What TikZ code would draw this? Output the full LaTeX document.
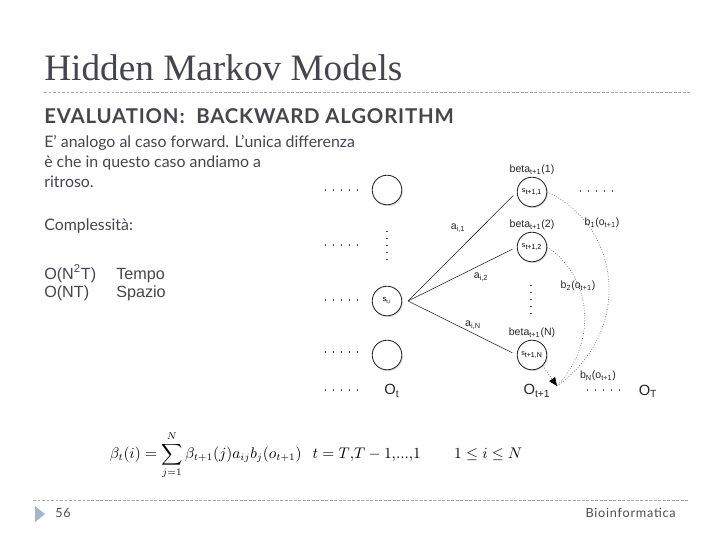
\documentclass[tikz,border=0pt]{standalone}
\usepackage{amsmath,amssymb}
\usepackage{fontspec}
\setmainfont{Liberation Serif}
\newfontfamily\gill{Lato}
\newfontfamily\arial{Liberation Sans}
\usetikzlibrary{arrows.meta,positioning,shadows}

\definecolor{slidegray}{HTML}{45454D}
\definecolor{markerblue}{HTML}{A3B6CA}

\begin{document}
\begin{tikzpicture}[
  x=0.025cm, y=-0.025cm,
  state/.style={
    circle, draw=black!85, fill=white, semithick, inner sep=0pt, minimum size=0.74cm,
    drop shadow={shadow xshift=0.7pt, shadow yshift=-0.9pt, opacity=0.3}
  },
  lab/.style={font=\arial\fontsize{7.5}{8}\selectfont, text=black!85, inner sep=1pt},
  obs/.style={font=\arial\fontsize{10.5}{11}\selectfont, text=black!85, inner sep=1pt},
  body/.style={font=\gill\fontsize{11.3}{13}\selectfont, text=slidegray, anchor=base west, inner sep=0pt},
  cplx/.style={font=\arial\fontsize{11.5}{14}\selectfont, text=slidegray, anchor=base west, inner sep=0pt},
  foot/.style={font=\gill\fontsize{9}{10}\selectfont\addfontfeature{LetterSpace=6}, text=black!70, inner sep=0pt},
  hdots/.style={black!70, line width=0.8pt, dash pattern=on 0.8pt off 4.9pt},
  vdots/.style={black!70, line width=0.8pt, dash pattern=on 0.8pt off 4.2pt},
  trans/.style={black!85, thin, shorten >=3.5pt},
  emit/.style={black!60, line width=0.5pt, dash pattern=on 0.5pt off 1.3pt},
  rule/.style={black!35, line width=0.5pt, dash pattern=on 2pt off 1.2pt}
]
\useasboundingbox (0,0) rectangle (720,540);

% Header
\node[font=\fontsize{26.5}{30}\selectfont, text=slidegray, anchor=base west, inner sep=0pt] (title) at (44,80) {Hidden Markov Models};
\coordinate (topl) at (44,92);
\coordinate (topr) at (690,92);
\draw[rule] (topl) -- (topr);
\node[body, font=\gill\bfseries\fontsize{14.5}{16}\selectfont\addfontfeature{LetterSpace=4}] (head) at (44,123) {EVALUATION:\ \ BACKWARD ALGORITHM};

% Text on the left
\node[body] (line1) at (44,147) {E’ analogo al caso forward. L’unica differenza};
\node[body] (line2) at (44,167) {è che in questo caso andiamo a};
\node[body] (line3) at (44,187) {ritroso.};
\node[body] (compl) at (44,230) {Complessità:};
\node[cplx] (ctime) at (44,279) {O(N\textsuperscript{2}T)};
\node[cplx] (tempo) at (116,279) {Tempo};
\node[cplx] (cspace) at (44,297) {O(NT)};
\node[cplx] (spazio) at (116,297) {Spazio};

% Column t
\node[state] (c1) at (387,190) {};
\node[state] (sti) at (387,301) {\arial\fontsize{5.5}{6}\selectfont s\textsubscript{t,i}};
\node[state] (cN) at (387,355) {};
\node[obs] (ot) at (392,391) {O\textsubscript{t}};
\draw[vdots] (387,231) -- (387,260);
\foreach \yy in {190,245,300,352,390}
  \draw[hdots] (325,\yy) -- (358,\yy);

% Column t+1
\node[state] (n1) at (532,192) {\arial\fontsize{5}{6}\selectfont s\textsubscript{t+1,1}};
\node[state] (n2) at (532,247) {\arial\fontsize{5}{6}\selectfont s\textsubscript{t+1,2}};
\node[state] (nN) at (532,355) {\arial\fontsize{5}{6}\selectfont s\textsubscript{t+1,N}};
\node[lab, above=0pt of n1] (beta1) {beta\textsubscript{t+1}(1)};
\node[lab, above=0pt of n2] (beta2) {beta\textsubscript{t+1}(2)};
\node[lab, above=0pt of nN] (betaN) {beta\textsubscript{t+1}(N)};
\draw[vdots] (531,285) -- (531,314);
\node[obs] (ot1) at (537,391) {O\textsubscript{t+1}};
\node[obs] (oT) at (648,391) {O\textsubscript{T}};
\draw[hdots] (580,191) -- (613,191);
\draw[hdots] (587,390) -- (620,390);

% Transitions from s_t,i
\coordinate (fan) at (408,301);
\draw[trans] (fan) -- (n1.west);
\draw[trans] (fan) -- (n2.west);
\draw[trans] (fan) -- (nN.west);
\node[lab] (a1) at (458,228) {a\textsubscript{i,1}};
\node[lab] (a2) at (481,277) {a\textsubscript{i,2}};
\node[lab] (aN) at (473,325) {a\textsubscript{i,N}};

% Emissions into o_t+1
\coordinate (emitin) at (557,386);
\draw[emit] (n1.east) .. controls (620,225) and (635,330) .. (emitin);
\draw[emit] (n2.east) .. controls (590,275) and (600,340) .. (emitin);
\draw[emit, -{Triangle[length=6pt,width=5pt,black]}] (nN.south east) -- (emitin);
\node[lab] (b1) at (602,223) {b\textsubscript{1}(o\textsubscript{t+1})};
\node[lab] (b2) at (578,286) {b\textsubscript{2}(o\textsubscript{t+1})};
\node[lab] (bN) at (598,376) {b\textsubscript{N}(o\textsubscript{t+1})};

% Formula
\node[font=\fontsize{10.5}{12}\selectfont, inner sep=0pt] (formula) at (316,455)
  {$\displaystyle \beta_t(i)=\sum_{j=1}^{N}\beta_{t+1}(j)a_{ij}b_j(o_{t+1})\ \ \ t=T{,}T-1{,}...{,}1\qquad\ 1\le i\le N$};

% Footer
\coordinate (botl) at (33,500);
\coordinate (botr) at (688,500);
\draw[rule] (botl) -- (botr);
\fill[markerblue] (35,506) -- (45,514) -- (35,522) -- cycle;
\node[foot, anchor=base west] (page) at (55,517) {56};
\node[foot, anchor=base east] (course) at (676,517) {Bioinformatica};

\end{tikzpicture}
\end{document}
